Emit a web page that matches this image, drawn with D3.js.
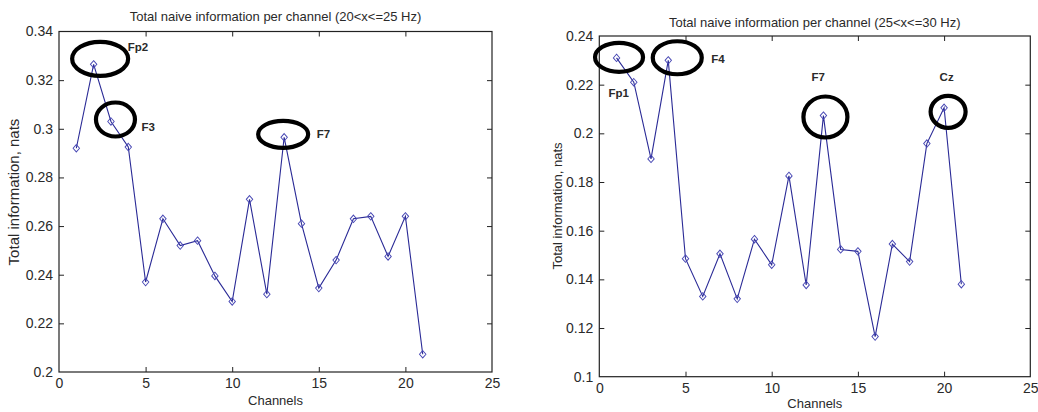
<!DOCTYPE html>
<html>
<head>
<meta charset="utf-8">
<script src="https://cdn.jsdelivr.net/npm/d3@7/dist/d3.min.js"></script>
<style>
  html, body { margin: 0; padding: 0; background: #fff; }
  svg { display: block; }
  text { font-family: "Liberation Sans", Arial, sans-serif; fill: #2a2a2a; }
</style>
</head>
<body>
<svg id="chart" width="1038" height="412"></svg>
<script>
// ---- Data ----
const channels = d3.range(1, 22);
const infoLeft = [0.292, 0.3265, 0.303, 0.2925, 0.237, 0.263, 0.252, 0.254, 0.2395, 0.229,
                  0.271, 0.232, 0.2965, 0.261, 0.2345, 0.246, 0.263, 0.264, 0.2475, 0.264, 0.2073];
const infoRight = [0.231, 0.221, 0.1895, 0.230, 0.1485, 0.133, 0.1505, 0.132, 0.1565, 0.146,
                   0.1825, 0.1377, 0.2073, 0.1523, 0.1515, 0.1165, 0.1545, 0.1473, 0.1958, 0.2105, 0.138];
const titleLeft = "Total naive information per channel (20<x<=25 Hz)";
const titleRight = "Total naive information per channel (25<x<=30 Hz)";
const xLabel = "Channels";
const yLabel = "Total information, nats";
const xTicks = [0, 5, 10, 15, 20, 25];
const yTicksLeft = [0.2, 0.22, 0.24, 0.26, 0.28, 0.3, 0.32, 0.34];
const yTicksRight = [0.1, 0.12, 0.14, 0.16, 0.18, 0.2, 0.22, 0.24];
const annotLeftCh = [2, 3, 13];
const annotLeftTxt = ["Fp2", "F3", "F7"];
const annotRightCh = [1, 4, 13, 20];
const annotRightTxt = ["Fp1", "F4", "F7", "Cz"];

const svg = d3.select("#chart");

function panel(cfg) {
  const g = svg.append("g");
  const x = d3.scaleLinear().domain([0, 25]).range([cfg.left, cfg.right]);
  const y = d3.scaleLinear().domain(cfg.yDomain).range([cfg.bottom, cfg.top]);
  const fmt = d => String(+d.toFixed(2));

  // box
  g.append("rect").attr("x", cfg.left).attr("y", cfg.top)
    .attr("width", cfg.right - cfg.left).attr("height", cfg.bottom - cfg.top)
    .attr("fill", "#fff").attr("stroke", "#222").attr("stroke-width", 1.2);

  // axes (ticks inward)
  const ax = (gen, tr, showLabels) => {
    const a = g.append("g").attr("transform", tr).call(gen);
    a.select(".domain").remove();
    a.selectAll("line").attr("stroke", "#222");
    a.selectAll("text").style("font-size", "14px").attr("fill", "#2a2a2a");
    if (!showLabels) a.selectAll("text").remove();
    return a;
  };
  const bx = ax(d3.axisBottom(x).tickValues(xTicks).tickSize(-5).tickPadding(10).tickFormat(fmt),
     `translate(0,${cfg.bottom})`, true);
  bx.selectAll("text").attr("dy", "0.71em").attr("y", 6);
  ax(d3.axisTop(x).tickValues(xTicks).tickSize(-5), `translate(0,${cfg.top})`, false);
  const ly = ax(d3.axisLeft(y).tickValues(cfg.yTicks).tickSize(-5).tickPadding(10).tickFormat(fmt),
     `translate(${cfg.left},0)`, true);
  ly.selectAll("text").attr("x", -6);
  ax(d3.axisRight(y).tickValues(cfg.yTicks).tickSize(-5), `translate(${cfg.right},0)`, false);
  // remove ticks at box corners (ends)
  g.selectAll(".tick line").filter(function(d){ return d === 0 || d === 25 || d === cfg.yDomain[0] || d === cfg.yDomain[1]; }).remove();

  // title & labels
  g.append("text").attr("x", (cfg.left + cfg.right) / 2).attr("y", cfg.titleY)
    .attr("text-anchor", "middle").style("font-size", "13px").text(cfg.title);
  g.append("text").attr("x", (cfg.left + cfg.right) / 2).attr("y", cfg.xLabelY)
    .attr("text-anchor", "middle").style("font-size", "13px").text(xLabel);
  g.append("text").attr("transform", `translate(${cfg.yLabelX},${cfg.yLabelCY}) rotate(-90)`)
    .attr("text-anchor", "middle").style("font-size", cfg.yLabelSize).text(yLabel);

  // series
  const pts = channels.map((c, i) => [c, cfg.values[i]]);
  const line = d3.line().x(d => x(d[0])).y(d => y(d[1]));
  g.append("path").datum(pts).attr("d", line)
    .attr("fill", "none").attr("stroke", "#2a2a96").attr("stroke-width", 1.1);
  const sym = d3.symbol().type(d3.symbolDiamond2).size(34);
  g.selectAll(".mk").data(pts).join("path").attr("class", "mk")
    .attr("transform", d => `translate(${x(d[0])},${y(d[1])}) scale(0.88,1.02)`)
    .attr("d", sym).attr("fill", "none").attr("stroke", "#4848b4").attr("stroke-width", 1);

  // annotations (ellipses + bold labels), placed relative to data points
  cfg.annot.forEach((a, i) => {
    const c = cfg.annotCh[i];
    const px = x(c), py = y(cfg.values[c - 1]);
    g.append("ellipse").attr("cx", px + a.dx).attr("cy", py + a.dy)
      .attr("rx", a.rx).attr("ry", a.ry)
      .attr("fill", "none").attr("stroke", "#000").attr("stroke-width", 4.2);
    g.append("text").attr("x", px + a.tx).attr("y", py + a.ty)
      .style("font-size", "11.5px").style("font-weight", "bold").attr("fill", "#1a1a1a")
      .text(cfg.annotTxt[i]);
  });
}

panel({
  left: 59, right: 492, top: 31.5, bottom: 372,
  yDomain: [0.2, 0.34], yTicks: yTicksLeft, values: infoLeft,
  title: titleLeft, titleY: 21, xLabelY: 405, yLabelX: 19, yLabelCY: 192, yLabelSize: "15px",
  annotCh: annotLeftCh, annotTxt: annotLeftTxt,
  annot: [
    { dx: 6.5, dy: -5.5, rx: 28, ry: 17, tx: 34, ty: -13 },
    { dx: 4.5, dy: -2, rx: 19.5, ry: 17, tx: 30.5, ty: 10 },
    { dx: -1, dy: -3, rx: 25, ry: 13.5, tx: 32.5, ty: 0.5 }
  ]
});

panel({
  left: 599.3, right: 1030.3, top: 36, bottom: 376.7,
  yDomain: [0.1, 0.24], yTicks: yTicksRight, values: infoRight,
  title: titleRight, titleY: 26.5, xLabelY: 408, yLabelX: 589 - 27, yLabelCY: 206, yLabelSize: "13px",
  annotCh: annotRightCh, annotTxt: annotRightTxt,
  annot: [
    { dx: 2.5, dy: -0.6, rx: 24, ry: 14.5, tx: -8, ty: 39.5 },
    { dx: 9, dy: -2.6, rx: 24.5, ry: 16.5, tx: 43, ty: 3 },
    { dx: 2, dy: 1.4, rx: 22, ry: 20.5, tx: -12, ty: -34.5 },
    { dx: 4, dy: 4, rx: 17.5, ry: 16, tx: -4.5, ty: -26.7 }
  ]
});
</script>
</body>
</html>
